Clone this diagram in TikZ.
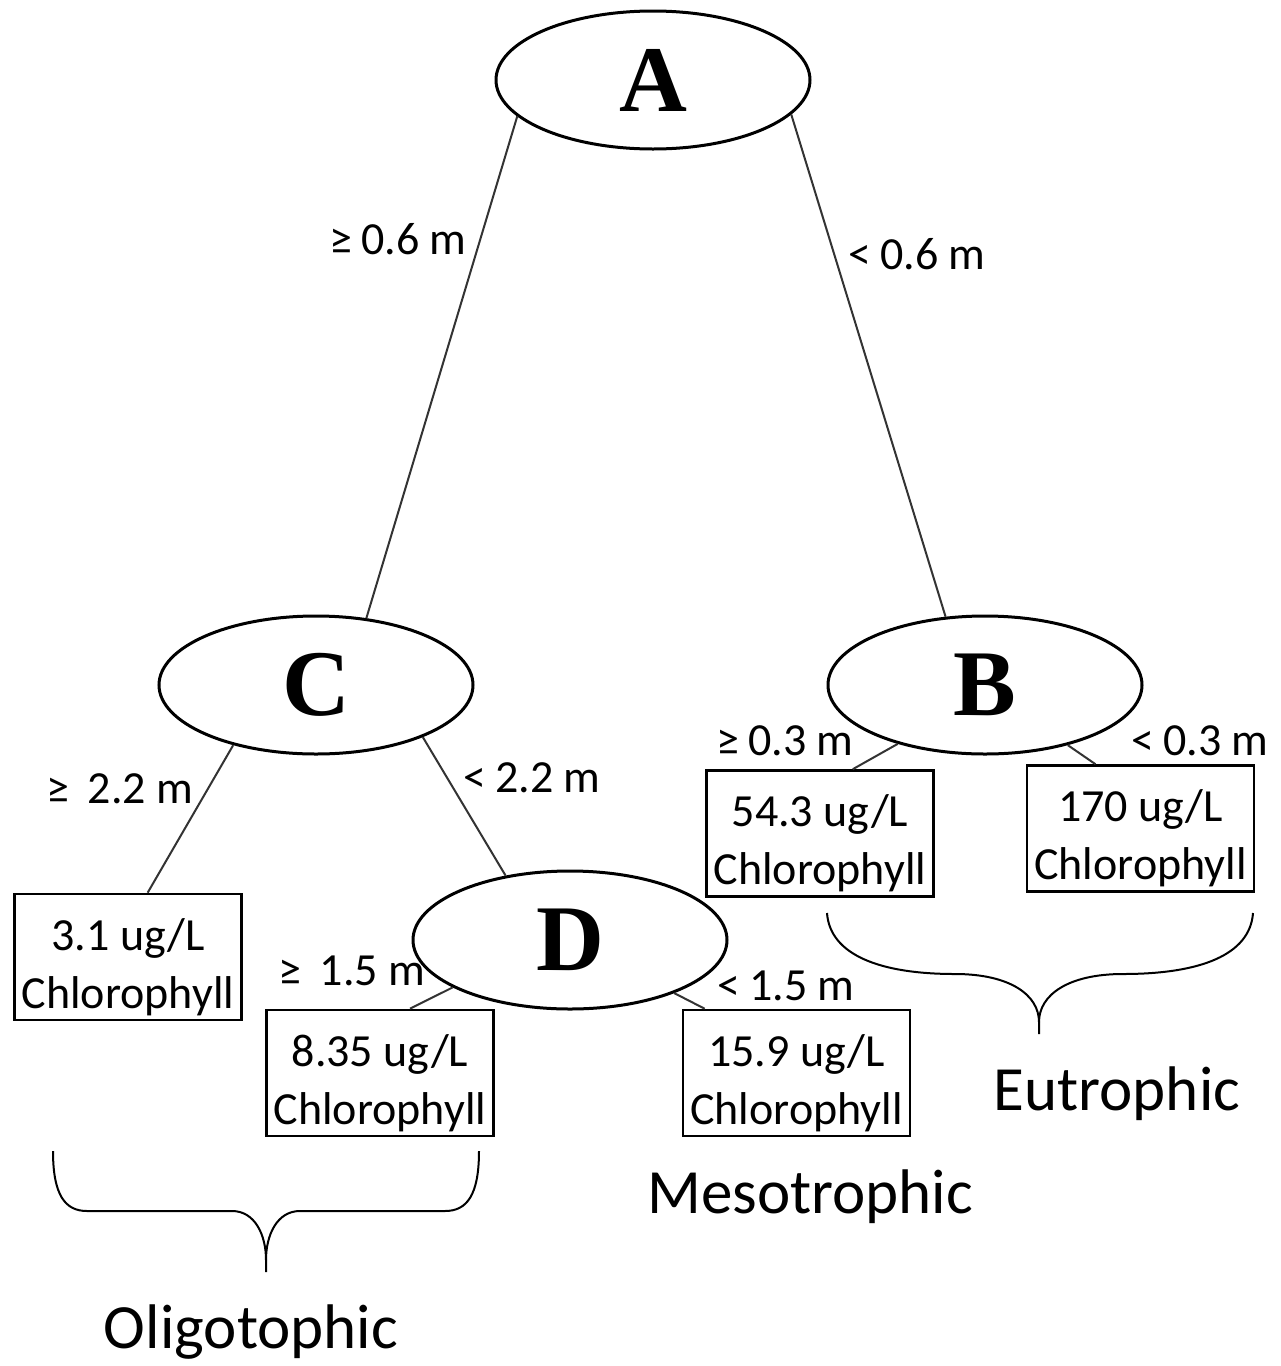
\documentclass[tikz,border=0pt]{standalone}
\usepackage{fontspec}
\setmainfont{Carlito}
\newfontfamily\letterfont{Liberation Serif}
\usetikzlibrary{shapes.geometric}
\newcommand{\tstrut}{\rule{0pt}{52pt}}
\newcommand{\gsp}{\hspace{9pt}}
\begin{document}
\begin{tikzpicture}[x=1pt,y=-1pt,
  ell/.style={ellipse, draw, line width=3pt, minimum width=314pt, minimum height=138pt, inner sep=0pt,
    font=\letterfont\bfseries\fontsize{94}{94}\selectfont},
  leaf/.style={rectangle, draw, line width=2.6pt, minimum width=227pt, minimum height=126pt,
    align=center, inner sep=0pt, font=\fontsize{46}{58}\selectfont},
  conn/.style={line width=2pt, draw=black!80},
  lbl/.style={anchor=base, inner sep=0pt, font=\fontsize{46}{46}\selectfont},
  cls/.style={anchor=base, inner sep=0pt, font=\fontsize{63}{63}\selectfont},
  brace/.style={line width=2pt}]
\useasboundingbox[fill=white] (0,0) rectangle (1281,1366);

% decision nodes
\node[ell] (A) at (653,80) {A};
\node[ell] (C) at (316,685) {C};
\node[ell] (B) at (985,685) {B};
\node[ell] (D) at (570,940) {D};

% leaves
\node[leaf] (l31)  at (128,957)    {\tstrut 3.1 ug/L\\Chlorophyll};
\node[leaf] (l835) at (380,1073)   {\tstrut 8.35 ug/L\\Chlorophyll};
\node[leaf] (l159) at (796.5,1073) {\tstrut 15.9 ug/L\\Chlorophyll};
\node[leaf] (l543) at (820,833.5)  {\tstrut 54.3 ug/L\\Chlorophyll};
\node[leaf] (l170) at (1140.5,828.5) {\tstrut 170 ug/L\\Chlorophyll};

% connectors
\draw[conn] (A.195) -- (C.53);
\draw[conn] (A.346) -- (B.120);
\draw[conn] (C.216) -- (l31.73);
\draw[conn] (C.334) -- (D.135);
\draw[conn] (D.202) -- (l835.65);
\draw[conn] (D.333) -- (l159.145);
\draw[conn] (B.214) -- (l543.63);
\draw[conn] (B.324) -- (l170.125);

% edge labels
\node[lbl] (e1) at (398,254)  {≥\gsp 0.6 m};
\node[lbl] (e2) at (917,269)  {<\gsp 0.6 m};
\node[lbl] (e3) at (120,803)  {≥\gsp\gsp 2.2 m};
\node[lbl] (e4) at (532,792)  {<\gsp 2.2 m};
\node[lbl] (e5) at (352,985)  {≥\gsp\gsp 1.5 m};
\node[lbl] (e6) at (786,1000) {<\gsp 1.5 m};
\node[lbl] (e7) at (785,755)  {≥\gsp 0.3 m};
\node[lbl] (e8) at (1200,755) {<\gsp 0.3 m};

% braces
\draw[brace] (53,1151) .. controls (53,1195) and (65,1211) .. (87,1211) -- (232,1211)
  .. controls (255,1211) and (266,1235) .. (266,1260) -- (266,1272);
\draw[brace] (266,1260) .. controls (266,1235) and (277,1211) .. (300,1211) -- (445,1211)
  .. controls (467,1211) and (479,1195) .. (479,1151);
\draw[brace] (827,913) .. controls (830,955) and (880,974) .. (955,974)
  .. controls (1010,974) and (1039,995) .. (1039,1022) -- (1039,1034);
\draw[brace] (1039,1022) .. controls (1039,995) and (1068,974) .. (1123,974)
  .. controls (1200,974) and (1250,955) .. (1253,913);

% class labels
\node[cls] (oligo) at (251,1348) {Oligotophic};
\node[cls] (meso)  at (810,1213) {Mesotrophic};
\node[cls] (eutro) at (1117,1110) {Eutrophic};
\end{tikzpicture}
\end{document}
